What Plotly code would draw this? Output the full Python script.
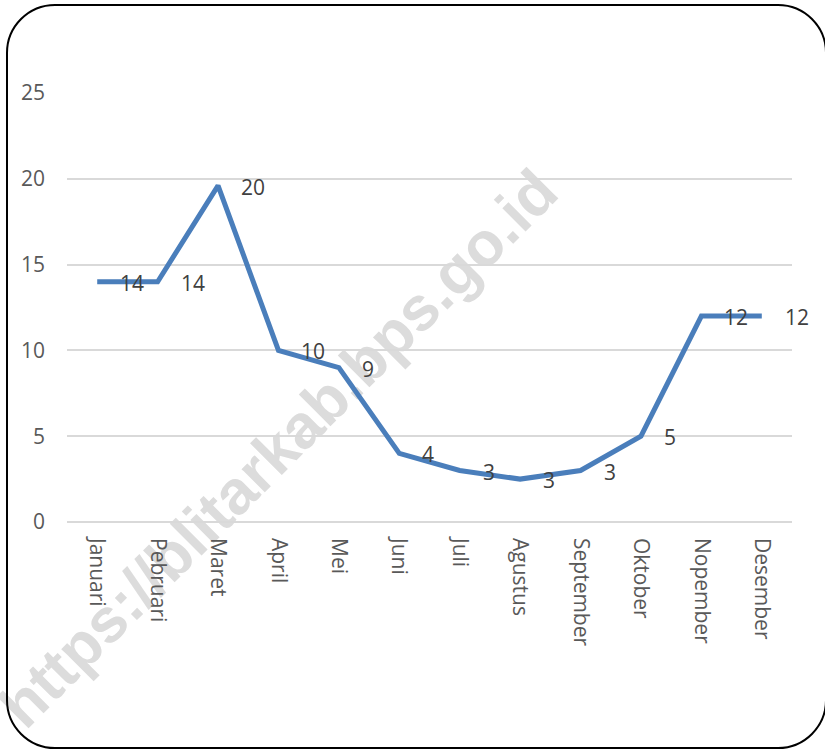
import plotly.graph_objects as go

months = ["Januari", "Pebruari", "Maret", "April", "Mei", "Juni", "Juli",
          "Agustus", "September", "Oktober", "Nopember", "Desember"]
values = [14, 14, 19.6, 10, 9, 4, 3, 2.5, 3, 5, 12, 12]
labels = ["14", "14", "20", "10", "9", "4", "3", "3", "3", "5", "12", "12"]
y_ticks = [0, 5, 10, 15, 20, 25]
watermark = "https://blitarkab.bps.go.id"

W, H = 825, 750
L, R, T, B = 67, 33, 93, 228
PW, PH = W - L - R, H - T - B


def px(x):
    return (x - L) / PW


def py(y):
    return (H - B - y) / PH


FONT = "Open Sans"

fig = go.Figure()
fig.add_trace(go.Scatter(
    x=months, y=values, mode="lines",
    line=dict(color="#4a7ebb", width=5),
    hoverinfo="skip", showlegend=False,
))

for m, v, t in zip(months, values, labels):
    fig.add_annotation(x=m, y=v, text=t, showarrow=False, xanchor="left",
                       yanchor="middle", xshift=21, yshift=-1,
                       font=dict(family=FONT, size=21, color="#404040"))

# rounded frame
l, r, t, b, rad = 7, 826, 5, 748, 48
k = rad * 0.4477


def P(x, y):
    return f"{px(x):.5f},{py(y):.5f}"


path = (f"M {P(l, t + rad)} C {P(l, t + k)} {P(l + k, t)} {P(l + rad, t)} "
        f"L {P(r - rad, t)} C {P(r - k, t)} {P(r, t + k)} {P(r, t + rad)} "
        f"L {P(r, b - rad)} C {P(r, b - k)} {P(r - k, b)} {P(r - rad, b)} "
        f"L {P(l + rad, b)} C {P(l + k, b)} {P(l, b - k)} {P(l, b - rad)} Z")
fig.add_shape(type="path", path=path, xref="paper", yref="paper",
              line=dict(color="black", width=2), layer="above")

# watermark
cx, cy = 274, 444
fig.add_shape(type="rect", xref="paper", yref="paper",
              x0=px(cx - 5), x1=px(cx + 5), y0=py(cy + 5), y1=py(cy - 5),
              line=dict(width=0), fillcolor="rgba(0,0,0,0)", layer="below",
              label=dict(text="<b>" + watermark + "</b>", textangle=-45,
                         textposition="middle center",
                         font=dict(family="Liberation Sans", size=62,
                                   color="#dcdcdc")))

fig.update_layout(
    width=W, height=H,
    margin=dict(l=L, r=R, t=T, b=B),
    paper_bgcolor="white", plot_bgcolor="rgba(0,0,0,0)",
    font=dict(family=FONT, size=21, color="#595959"),
    xaxis=dict(type="category", tickangle=90, showgrid=False,
               range=[-0.5, len(months) - 0.5],
               showline=False, zeroline=False, ticks="",
               ticklabelstandoff=15,
               tickfont=dict(family=FONT, size=21, color="#595959")),
    yaxis=dict(range=[0, 25], tickvals=y_ticks, showgrid=True,
               gridcolor="#d9d9d9", gridwidth=1.5, zeroline=True,
               zerolinecolor="#d9d9d9", zerolinewidth=1.5, showline=False,
               ticks="", ticklabelstandoff=21,
               tickfont=dict(family=FONT, size=21, color="#595959")),
)

fig.write_html(
    "out.html",
    config={"displayModeBar": False},
    post_script="document.documentElement.style.margin='0';"
                "document.body.style.margin='0';"
                "document.body.style.overflow='hidden';",
)
